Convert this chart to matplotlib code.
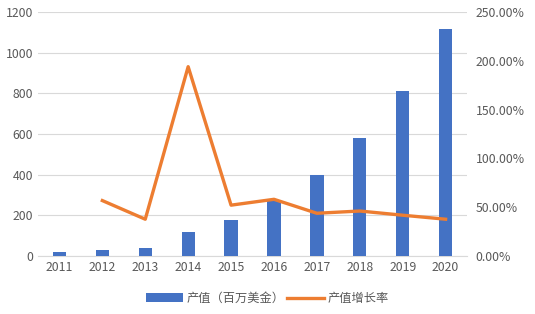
import matplotlib
matplotlib.use("Agg")
import matplotlib.pyplot as plt
from matplotlib.ticker import FuncFormatter

plt.rcParams['font.family'] = ['Noto Sans CJK SC', 'DejaVu Sans']

years = ["2011", "2012", "2013", "2014", "2015", "2016", "2017", "2018", "2019", "2020"]
output = [20, 30, 40, 118, 177, 275, 398, 580, 813, 1115]
growth = [None, 56.7, 37.6, 193.9, 52.0, 58.0, 43.7, 46.0, 41.7, 37.6]

bar_color = "#4472C4"
line_color = "#ED7D31"
text_color = "#595959"

fig = plt.figure(figsize=(5.35, 3.14), dpi=100)
ax = fig.add_axes([0.071, 0.185, 0.802, 0.777])
x = list(range(len(years)))
bars = ax.bar(x, output, width=0.31, color=bar_color, zorder=3, label="产值（百万美金）")
ax.set_ylim(0, 1200)
ax.set_yticks(range(0, 1201, 200))
ax.set_xlim(-0.5, len(years) - 0.5)
ax.set_xticks(x)
ax.set_xticklabels(years)
ax.grid(axis="y", color="#D9D9D9", linewidth=0.8, zorder=0)
for s in ["top", "right", "left"]:
    ax.spines[s].set_visible(False)
ax.spines["bottom"].set_color("#D9D9D9")
ax.tick_params(length=0, colors=text_color, labelsize=8.8)

ax2 = ax.twinx()
gx = [i for i, g in zip(x, growth) if g is not None]
gy = [g for g in growth if g is not None]
line, = ax2.plot(gx, gy, color=line_color, linewidth=2.4, zorder=4, label="产值增长率")
ax2.set_ylim(0, 250)
ax2.set_yticks(range(0, 251, 50))
ax2.yaxis.set_major_formatter(FuncFormatter(lambda v, p: "%.2f%%" % v))
for s in ["top", "right", "left", "bottom"]:
    ax2.spines[s].set_visible(False)
ax2.tick_params(length=0, colors=text_color, labelsize=8.8, pad=6)

fig.legend([bars, line], ["产值（百万美金）", "产值增长率"], loc="center", bbox_to_anchor=(0.5, 0.05),
           ncol=2, frameon=False, fontsize=8.8, labelcolor=text_color,
           handlelength=3.0, handletextpad=0.3, columnspacing=0.2)

fig.savefig("out.png", dpi=100)
